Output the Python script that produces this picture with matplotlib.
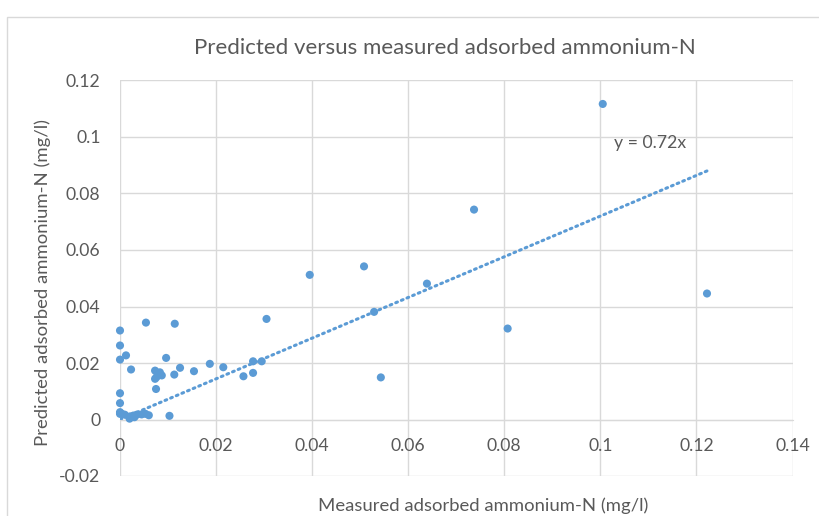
import matplotlib
matplotlib.use("Agg")
import matplotlib.pyplot as plt
from matplotlib.patches import Rectangle
import numpy as np

plt.rcParams['font.family'] = ['Lato', 'DejaVu Sans']

# Measured vs predicted adsorbed ammonium-N (mg/l)
measured = [
    0.0, 0.0, 0.0, 0.0, 0.0, 0.0, 0.0,
    0.0004, 0.0010, 0.0021, 0.0028, 0.0035, 0.0045, 0.0053, 0.0020, 0.0030, 0.0060,
    0.00125, 0.0023, 0.0054, 0.0114, 0.0096, 0.0073, 0.0083, 0.0076, 0.0087, 0.0073,
    0.0075, 0.0113, 0.0125, 0.0154, 0.0187, 0.0215, 0.0257, 0.0277, 0.0277, 0.0295,
    0.0305, 0.0103, 0.0395, 0.0508, 0.0529, 0.0543, 0.0639, 0.0737, 0.0807, 0.1005,
    0.1222,
]
predicted = [
    0.0315, 0.0262, 0.0212, 0.0093, 0.0058, 0.0026, 0.0020,
    0.0020, 0.0017, 0.0011, 0.0014, 0.0017, 0.0018, 0.0020, 0.0003, 0.0008, 0.0015,
    0.0227, 0.0177, 0.0343, 0.0339, 0.0218, 0.0173, 0.0167, 0.0150, 0.0156, 0.0144,
    0.0108, 0.0159, 0.0183, 0.0171, 0.0197, 0.0185, 0.0153, 0.0206, 0.0165, 0.0206,
    0.0356, 0.0013, 0.0512, 0.0542, 0.0381, 0.0149, 0.0481, 0.0743, 0.0322, 0.1117,
    0.0446,
]
slope = 0.72
x_ticks = [0, 0.02, 0.04, 0.06, 0.08, 0.1, 0.12, 0.14]
y_ticks = [-0.02, 0, 0.02, 0.04, 0.06, 0.08, 0.1, 0.12]
x_tick_labels = ["0", "0.02", "0.04", "0.06", "0.08", "0.1", "0.12", "0.14"]
y_tick_labels = ["-0.02", "0", "0.02", "0.04", "0.06", "0.08", "0.1", "0.12"]

W, H = 819, 516
fig = plt.figure(figsize=(W / 100, H / 100), dpi=100)
fig.patch.set_facecolor("white")

# chart-area frame
fig.patches.append(Rectangle((7 / W, -0.2), 2.0, (516 - 17) / H + 0.2,
                             transform=fig.transFigure, fill=False,
                             edgecolor="#d9d9d9", linewidth=1.0))

left, right, top, bottom = 120, 792.5, 80.5, 476
ax = fig.add_axes([left / W, 1 - bottom / H, (right - left) / W, (bottom - top) / H])

blue = "#5B9BD5"
text_col = "#595959"
grid_col = "#d9d9d9"

ax.set_xlim(0, 0.14)
ax.set_ylim(-0.02, 0.12)
ax.set_xticks(x_ticks)
ax.set_yticks(y_ticks)
ax.set_xticklabels(x_tick_labels)
ax.set_yticklabels(y_tick_labels)
ax.grid(True, color=grid_col, linewidth=1.0)
ax.set_axisbelow(True)

for s in ["top", "right", "left"]:
    ax.spines[s].set_visible(False)
ax.spines["bottom"].set_position(("data", 0))
ax.spines["bottom"].set_color(grid_col)
ax.tick_params(axis="both", length=0, colors=text_col, labelsize=12.7)
ax.tick_params(axis="x", pad=13.5)
ax.tick_params(axis="y", pad=14)

# linear fit through the origin
xf = np.array([0.0, max(measured)])
ax.plot(xf, slope * xf, linestyle=(0, (0.6, 1.4)), color=blue,
        linewidth=2.2, dash_capstyle="round", zorder=2)

ax.scatter(measured, predicted, s=34, color=blue, edgecolors="none",
           zorder=3, clip_on=False)

ax.text(0.1103, 0.0977, "y = 0.72x", color=text_col, fontsize=12.7,
        ha="center", va="center")

fig.text(445 / W, 1 - 48 / H, "Predicted versus measured adsorbed ammonium-N",
         ha="center", va="center", fontsize=16, color=text_col)
fig.text(43 / W, 1 - 283 / H, "Predicted adsorbed ammonium-N (mg/l)",
         ha="center", va="center", rotation=90, fontsize=13.3, color=text_col)
fig.text(483 / W, 1 - 506 / H, "Measured adsorbed ammonium-N (mg/l)",
         ha="center", va="center", fontsize=13.3, color=text_col)

fig.savefig("out.png", dpi=100)
